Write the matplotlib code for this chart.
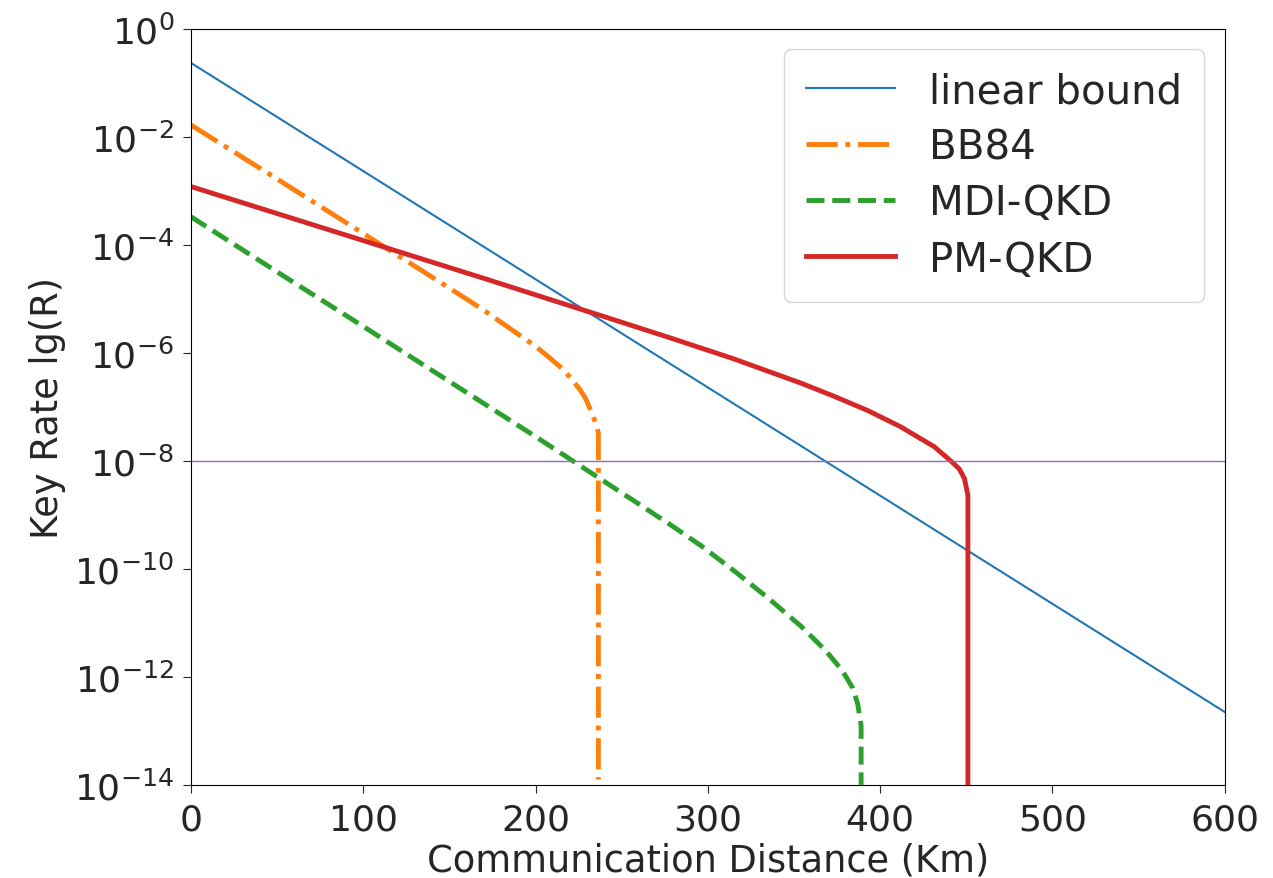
import matplotlib.pyplot as plt
import numpy as np

# values, log10 of the key rate
bound_x = [0, 600]
bound_lg = [-0.63, -12.65]

bb84_x = [0, 50, 100, 150, 169, 183, 192, 200, 207, 214, 220, 226, 229, 231,
          233.5, 235.5, 236.5, 236.5]
bb84_lg = [-1.78, -2.78, -3.79, -4.80, -5.19, -5.50, -5.70, -5.88, -6.06, -6.25,
           -6.45, -6.69, -6.84, -6.99, -7.18, -7.35, -7.49, -13.9]

mdi_x = [0, 50, 100, 150, 200, 236, 260, 280, 296, 315, 335, 354, 368, 378, 384, 387, 389, 389]
mdi_lg = [-3.48, -4.50, -5.51, -6.53, -7.55, -8.30, -8.80, -9.22, -9.57, -10.03,
          -10.54, -11.06, -11.50, -11.88, -12.2, -12.5, -12.9, -14.0]

pm_x = [0, 50, 112, 170, 226, 238, 277, 315, 354, 373, 393, 412, 431.5, 441, 446,
        449, 451, 451]
pm_lg = [-2.92, -3.42, -4.04, -4.62, -5.19, -5.31, -5.71, -6.11, -6.56, -6.80,
         -7.07, -7.37, -7.74, -8.0, -8.15, -8.33, -8.64, -14.0]

threshold = 1e-8
xticks = [0, 100, 200, 300, 400, 500, 600]
yticks = [1e0, 1e-2, 1e-4, 1e-6, 1e-8, 1e-10, 1e-12, 1e-14]

plt.rcParams['font.family'] = 'DejaVu Sans'
plt.rcParams['text.color'] = '#262626'
plt.rcParams['axes.labelcolor'] = '#262626'
plt.rcParams['xtick.color'] = '#262626'
plt.rcParams['ytick.color'] = '#262626'

fig = plt.figure(figsize=(12.73, 8.79), dpi=100)
ax = fig.add_axes([0.150, 0.106, 0.812, 0.860])

ax.plot(bound_x, 10 ** np.array(bound_lg), color='tab:blue', lw=1.5, label='linear bound')
ax.plot(bb84_x, 10 ** np.array(bb84_lg), color='tab:orange', lw=3.5, ls='-.', label='BB84')
ax.plot(mdi_x, 10 ** np.array(mdi_lg), color='tab:green', lw=3.5, ls='--', label='MDI-QKD')
ax.plot(pm_x, 10 ** np.array(pm_lg), color='tab:red', lw=3.5, label='PM-QKD')
ax.axhline(threshold, color='tab:purple', lw=1)

ax.set_yscale('log')
ax.set_xlim(0, 600)
ax.set_ylim(1e-14, 1e0)
ax.set_xticks(xticks)
ax.set_yticks(yticks)
ax.minorticks_off()
ax.tick_params(labelsize=26, length=6)
ax.tick_params(axis='x', pad=7)
ax.tick_params(axis='y', pad=6)
ax.set_xlabel('Communication Distance (Km)', fontsize=26.5, labelpad=3)
ax.set_ylabel('Key Rate lg(R)', fontsize=26.5, labelpad=6)
ax.legend(loc='upper right', fontsize=29, handlelength=2.2, borderpad=0.55,
          labelspacing=0.4, handletextpad=0.85, borderaxespad=0.5)

fig.savefig('out.png', dpi=100)
